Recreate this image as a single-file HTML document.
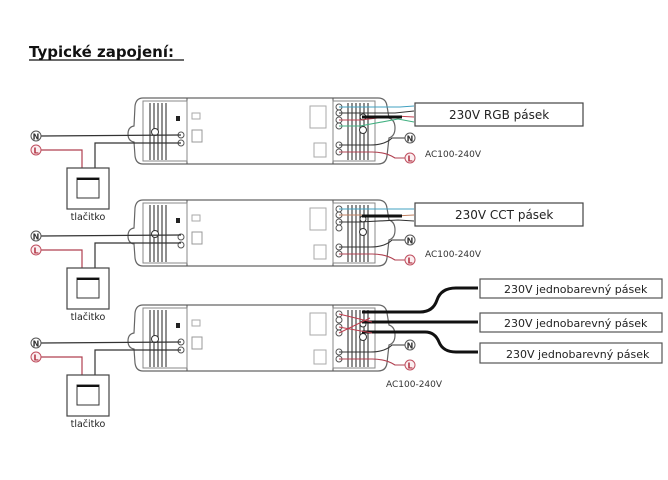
<!DOCTYPE html>
<html><head><meta charset="utf-8"><style>
html,body{margin:0;padding:0;background:#fff;width:668px;height:480px;overflow:hidden}
svg{display:block}
text{font-family:"DejaVu Sans","Liberation Sans",sans-serif}
</style></head><body>
<svg width="668" height="480" viewBox="0 0 668 480" xmlns="http://www.w3.org/2000/svg">
<defs>
<g id="ctrl" fill="none" stroke="#555" stroke-width="1">
  <path d="M143,98 H378 Q386,98 387,106 L389,118 Q395,120 395,128 Q395,136 389,138 L387,156 Q386,164 378,164 H143 Q136,164 135,156 L134,142 Q128,141 128,134 Q128,127 134,126 L135,106 Q136,98 143,98 Z" stroke="#666" stroke-width="1.2"/>
  <line x1="187" y1="98" x2="187" y2="164"/>
  <line x1="333" y1="98" x2="333" y2="164"/>
  <rect x="143" y="101" width="44" height="60" stroke="#888"/>
  <rect x="333" y="101" width="42" height="60" stroke="#888"/>
  <g stroke="#333" stroke-width="1.1">
    <line x1="150" y1="103" x2="150" y2="160"/><line x1="154" y1="103" x2="154" y2="160"/><line x1="158" y1="103" x2="158" y2="160"/><line x1="162" y1="103" x2="162" y2="160"/><line x1="166" y1="103" x2="166" y2="160"/>
    <line x1="348" y1="103" x2="348" y2="160"/><line x1="352" y1="103" x2="352" y2="160"/><line x1="356" y1="103" x2="356" y2="160"/><line x1="360" y1="103" x2="360" y2="160"/><line x1="364" y1="103" x2="364" y2="160"/><line x1="368" y1="103" x2="368" y2="160"/>
  </g>
  <circle cx="155" cy="132" r="3.5" fill="#fff" stroke="#333"/>
  <circle cx="181" cy="135" r="3" fill="#fff"/><circle cx="181" cy="143" r="3" fill="#fff"/>
  <rect x="176" y="116" width="4" height="5" fill="#222" stroke="none"/>
  <rect x="192" y="130" width="10" height="12" stroke="#999"/>
  <rect x="192" y="113" width="8" height="6" stroke="#aaa"/>
  <rect x="310" y="106" width="16" height="22" stroke="#aaa"/>
  <rect x="314" y="143" width="12" height="14" stroke="#aaa"/>
  <circle cx="339" cy="107" r="3" fill="#fff"/><circle cx="339" cy="113" r="3" fill="#fff"/><circle cx="339" cy="120" r="3" fill="#fff"/><circle cx="339" cy="126" r="3" fill="#fff"/>
  <circle cx="339" cy="145" r="3" fill="#fff"/><circle cx="339" cy="152" r="3" fill="#fff"/>
  <circle cx="363" cy="130" r="3.5" fill="#fff" stroke="#333"/>
  <circle cx="363" cy="117" r="3" fill="#fff" stroke="#333"/>
</g>
<g id="left">
  <line x1="41" y1="136" x2="181" y2="135" stroke="#333" stroke-width="1.2"/>
  <polyline points="41,150 82,150 82,168" fill="none" stroke="#b04050" stroke-width="1.2"/>
  <polyline points="95,168 95,143 181,143" fill="none" stroke="#333" stroke-width="1.2"/>
  <circle cx="36" cy="136" r="5" fill="#fff" stroke="#555"/>
  <text x="36" y="139.5" font-size="8" font-weight="bold" text-anchor="middle" fill="#333">N</text>
  <circle cx="36" cy="150" r="5" fill="#fbeef0" stroke="#c05060"/>
  <text x="36" y="153.5" font-size="8" font-weight="bold" text-anchor="middle" fill="#b03040">L</text>
  <rect x="67" y="168" width="42" height="41" fill="#fff" stroke="#444" stroke-width="1.2"/>
  <rect x="77" y="178" width="22" height="20" fill="#fff" stroke="#333"/>
  <line x1="77" y1="179" x2="99" y2="179" stroke="#111" stroke-width="2"/>
  <text x="88" y="220" font-size="9.5" text-anchor="middle" fill="#222">tlačitko</text>
</g>
<g id="mainsR">
  <path d="M339,145 H370 Q385,145 392,138 H405" fill="none" stroke="#333" stroke-width="1.1"/>
  <path d="M339,152 H372 Q386,152 395,158 H405" fill="none" stroke="#b04050" stroke-width="1.1"/>
  <circle cx="410" cy="138" r="5" fill="#fff" stroke="#555"/>
  <text x="410" y="141.5" font-size="8" font-weight="bold" text-anchor="middle" fill="#333">N</text>
  <circle cx="410" cy="158" r="5" fill="#fbeef0" stroke="#c05060"/>
  <text x="410" y="161.5" font-size="8" font-weight="bold" text-anchor="middle" fill="#b03040">L</text>
</g>
</defs>

<text x="29" y="57" font-size="15" font-weight="bold" fill="#111">Typické zapojení:</text>
<line x1="29" y1="60" x2="184" y2="60" stroke="#111" stroke-width="1.3"/>

<!-- section 1 -->
<use href="#ctrl"/>
<use href="#left"/>
<use href="#mainsR"/>
<g fill="none" stroke-width="1.1">
  <path d="M339,107 H400 L414,106" stroke="#40a0c0"/>
  <path d="M339,113 H395 L414,111" stroke="#333"/>
  <path d="M339,120 H360 L395,116 L414,117" stroke="#c04050"/>
  <path d="M339,126 H360 L398,119 L414,122" stroke="#40b080"/>
  <path d="M362,117 H402" stroke="#111" stroke-width="3"/>
</g>
<rect x="415" y="103" width="168" height="23" fill="#fff" stroke="#444" stroke-width="1.2"/>
<text x="449" y="119" font-size="12" fill="#222">230V RGB pásek</text>
<text x="425" y="157" font-size="9" fill="#333">AC100-240V</text>

<!-- section 2 -->
<g transform="translate(0,102)">
  <use href="#ctrl"/>
  <use href="#mainsR"/>
  <g fill="none" stroke-width="1.1">
    <path d="M339,107 H400 L414,107" stroke="#40a0c0"/>
    <path d="M339,113 H360 L395,114 L414,113" stroke="#c08060"/>
    <path d="M339,120 H360 L398,118 L414,119" stroke="#333"/>
    <path d="M362,114 H402" stroke="#111" stroke-width="3"/>
  </g>
  <rect x="415" y="101" width="168" height="23" fill="#fff" stroke="#444" stroke-width="1.2"/>
  <text x="455" y="117" font-size="12" fill="#222">230V CCT pásek</text>
  <text x="425" y="155" font-size="9" fill="#333">AC100-240V</text>
</g>
<g transform="translate(0,100)"><use href="#left"/></g>

<!-- section 3 -->
<g transform="translate(0,207)">
  <use href="#ctrl"/>
  <use href="#left"/>
  <use href="#mainsR"/>
</g>
<g fill="none">
  <path d="M362,312 H420 Q433,312 437,300 Q441,288 456,288 H478" stroke="#111" stroke-width="3"/>
  <path d="M362,322 H478" stroke="#111" stroke-width="3"/>
  <path d="M362,332 H425 Q435,332 439,342 Q443,352 456,352 H478" stroke="#111" stroke-width="3"/>
  <path d="M339,314 L372,322" stroke="#c04050" stroke-width="1"/>
  <path d="M339,333 L370,318" stroke="#c04050" stroke-width="1"/>
  <path d="M339,327 L372,333" stroke="#c04050" stroke-width="1"/>
</g>
<rect x="480" y="279" width="182" height="19" fill="#fff" stroke="#555" stroke-width="1.2"/>
<text x="504" y="293" font-size="11" fill="#222">230V jednobarevný pásek</text>
<rect x="480" y="313" width="182" height="19" fill="#fff" stroke="#555" stroke-width="1.2"/>
<text x="504" y="327" font-size="11" fill="#222">230V jednobarevný pásek</text>
<rect x="480" y="343" width="182" height="20" fill="#fff" stroke="#555" stroke-width="1.2"/>
<text x="506" y="358" font-size="11" fill="#222">230V jednobarevný pásek</text>
<text x="386" y="387" font-size="9" fill="#333">AC100-240V</text>
</svg>
</body></html>
